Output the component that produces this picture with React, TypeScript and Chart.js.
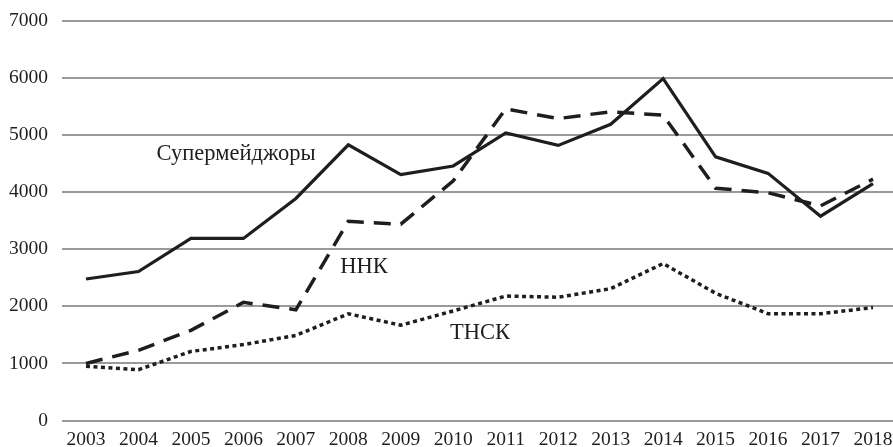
import React, { useEffect, useRef } from 'react';
import { Chart, registerables } from 'chart.js';

Chart.register(...registerables);

const years = [2003, 2004, 2005, 2006, 2007, 2008, 2009, 2010, 2011, 2012, 2013, 2014, 2015, 2016, 2017, 2018];
const supermajors = [2480, 2610, 3190, 3190, 3890, 4830, 4310, 4460, 5040, 4820, 5190, 5990, 4620, 4330, 3580, 4150];
const nnk = [1000, 1230, 1580, 2070, 1940, 3490, 3440, 4200, 5460, 5290, 5410, 5350, 4070, 3990, 3760, 4230];
const tnsk = [950, 890, 1210, 1330, 1490, 1870, 1670, 1920, 2180, 2160, 2310, 2750, 2230, 1870, 1870, 1980];
const yTickValues = [0, 1000, 2000, 3000, 4000, 5000, 6000, 7000];
const seriesLabels = [
  { text: 'Супермейджоры', year: 2005.86, value: 4670 },
  { text: 'ННК', year: 2008.3, value: 2690 },
  { text: 'ТНСК', year: 2010.51, value: 1533 },
];

const FONT = '"Liberation Serif", "Times New Roman", serif';
const INK = '#1e1e1e';

export default function App() {
  const ref = useRef<HTMLCanvasElement | null>(null);

  useEffect(() => {
    document.body.style.margin = '0';
    const canvas = ref.current;
    if (!canvas) return;

    const toPoints = (arr: number[]) => arr.map((v, i) => ({ x: years[i], y: v }));

    const labelPlugin = {
      id: 'seriesLabels',
      afterDatasetsDraw(chart: any) {
        const ctx = chart.ctx;
        const xs = chart.scales.x;
        const ys = chart.scales.y;
        ctx.save();
        ctx.font = `22.5px ${FONT}`;
        ctx.fillStyle = INK;
        ctx.textAlign = 'center';
        ctx.textBaseline = 'middle';
        seriesLabels.forEach((l) => {
          ctx.fillText(l.text, xs.getPixelForValue(l.year), ys.getPixelForValue(l.value));
        });
        ctx.restore();
      },
    };

    const chart = new Chart(canvas, {
      type: 'line',
      data: {
        datasets: [
          {
            label: 'Супермейджоры',
            data: toPoints(supermajors),
            borderColor: INK,
            borderWidth: 3.2,
            borderJoinStyle: 'miter',
            pointRadius: 0,
            tension: 0,
          },
          {
            label: 'ННК',
            data: toPoints(nnk),
            borderColor: INK,
            borderWidth: 3.5,
            borderDash: [17, 10],
            borderCapStyle: 'butt',
            pointRadius: 0,
            tension: 0,
          },
          {
            label: 'ТНСК',
            data: toPoints(tnsk),
            borderColor: INK,
            borderWidth: 3.5,
            borderDash: [4, 3.5],
            borderCapStyle: 'butt',
            pointRadius: 0,
            tension: 0,
          },
        ],
      },
      options: {
        responsive: false,
        animation: false,
        layout: { padding: { top: 21, right: 0, left: 0, bottom: 0 } },
        plugins: {
          legend: { display: false },
          tooltip: { enabled: false },
        },
        scales: {
          x: {
            type: 'linear',
            min: 2002.5426,
            max: 2018.381,
            afterBuildTicks: (scale: any) => {
              scale.ticks = years.map((v) => ({ value: v }));
            },
            afterFit: (scale: any) => {
              scale.height = 26.5;
              scale.paddingLeft = 0;
              scale.paddingRight = 0;
            },
            grid: { display: false, drawTicks: false },
            border: { display: false },
            ticks: {
              autoSkip: false,
              maxRotation: 0,
              padding: 8,
              color: INK,
              font: { family: FONT, size: 19.5 },
              callback: (v: any) => String(v),
            },
          },
          y: {
            min: 0,
            max: 7000,
            afterBuildTicks: (scale: any) => {
              scale.ticks = yTickValues.map((v) => ({ value: v }));
            },
            afterFit: (scale: any) => {
              scale.width = 62;
              scale.paddingTop = 0;
              scale.paddingBottom = 0;
            },
            grid: { color: '#9a9a9a', lineWidth: 2, drawTicks: false },
            border: { display: false },
            ticks: {
              padding: 14,
              color: INK,
              font: { family: FONT, size: 19.5 },
              callback: (v: any) => String(v),
            },
          },
        },
      },
      plugins: [labelPlugin],
    });

    return () => chart.destroy();
  }, []);

  return (
    <div style={{ position: 'absolute', left: 0, top: 0, width: 893, height: 447 }}>
      <canvas ref={ref} width={893} height={447} />
    </div>
  );
}
